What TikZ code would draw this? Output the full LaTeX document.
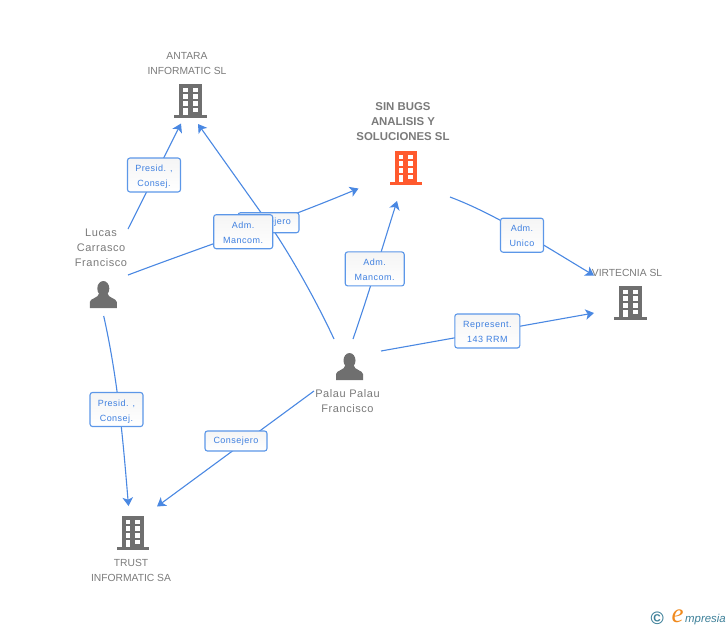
\documentclass[tikz,border=0pt]{standalone}
\usepackage{fontspec}
\setmainfont{Liberation Sans}
\newfontfamily\lblfont[LetterSpace=5.5]{Liberation Sans}
\newfontfamily\namefont[LetterSpace=5]{Liberation Sans}
\newfontfamily\logoserif{Liberation Serif}
\usetikzlibrary{arrows.meta,backgrounds,shadings}
\definecolor{edgeblue}{HTML}{4A88E2}
\definecolor{lbltext}{HTML}{3F80E0}
\definecolor{lblframe}{HTML}{5C97E8}
\definecolor{iconGrey}{HTML}{6F6F6F}
\definecolor{txtGrey}{HTML}{7A7A7A}
\definecolor{iconRed}{HTML}{FF5A2E}
\definecolor{logoTeal}{HTML}{3C7F98}
\definecolor{logoOrange}{HTML}{F08A1E}
\tikzset{
  x=1pt,y=-1pt,
  lbl/.style={draw=lblframe,line width=1.1pt,rounded corners=2.5pt,top color=black!4,bottom color=white,
    text=lbltext,align=center,inner sep=0pt,font=\fontsize{9}{15}\selectfont\lblfont},
  company/.style={text=txtGrey,align=center,inner sep=0pt,font=\fontsize{10.3}{15}\selectfont},
  focus/.style={text=txtGrey,align=center,inner sep=0pt,font=\fontsize{11.4}{15}\selectfont\bfseries},
  person/.style={text=txtGrey,align=center,inner sep=0pt,font=\fontsize{11}{15}\selectfont\namefont},
  link/.style={draw=edgeblue,line width=1.1pt},
  linkto/.style={link,-{Stealth[length=8.5pt,width=10.5pt,inset=2.2pt]}},
}
\newcommand{\twolines}[2]{\rule{0pt}{10.5pt}#1\\#2\rule[-2.5pt]{0pt}{0pt}}
\newcommand{\oneline}[1]{\rule[-2pt]{0pt}{8pt}#1}
\newcommand{\bldg}[3]{%
  \begin{scope}[shift={(#1,#2)}]
    \fill[#3] (0,0) rectangle (22.4,31);
    \fill[#3] (-5,31) rectangle (27.2,34);
    \foreach \yy in {3.7,10.3,17}{
      \fill[white] (3.7,\yy) rectangle +(4.7,4.7);
      \fill[white] (13.4,\yy) rectangle +(5,4.7);
    }
    \fill[white] (13.4,23.7) rectangle +(5,4.7);
    \fill[white] (3.7,23.7) rectangle (8.2,31);
  \end{scope}}
\newcommand{\persona}[2]{%
  \begin{scope}[shift={(#1,#2)}]
    \fill[iconGrey] (0,7.5) ellipse (6 and 7.5);
    \fill[iconGrey] (-13.5,27) -- (-13.5,21) .. controls (-13,17) and (-5,17.5) .. (-4,12) -- (4,12)
      .. controls (5,17.5) and (13,17) .. (13.5,21) -- (13.5,27) -- cycle;
  \end{scope}}
\begin{document}
\begin{tikzpicture}
\useasboundingbox (0,0) rectangle (728,630);

% icons
\bldg{179.3}{84}{iconGrey}
\bldg{395}{151}{iconRed}
\bldg{619.3}{286}{iconGrey}
\bldg{122}{516}{iconGrey}
\persona{103.3}{281}
\persona{349.5}{353}

% names
\node[company] (antara) at (187,63.5) {ANTARA\\INFORMATIC SL};
\node[focus] (sinbugs) at (403,122) {SIN BUGS\\ANALISIS Y\\SOLUCIONES SL};
\node[company] (virtecnia) at (627,272.5) {VIRTECNIA SL};
\node[company] (trust) at (131,570.5) {TRUST\\INFORMATIC SA};
\node[person] (lucas) at (101,247.7) {Lucas\\Carrasco\\Francisco};
\node[person] (palau) at (347.5,401.2) {Palau Palau\\Francisco};

% labels
\node[lbl,minimum width=53pt,minimum height=34pt] (l1) at (154,175) {\twolines{Presid. ,}{Consej.}};
\node[lbl,minimum width=61pt,minimum height=20pt] (l2) at (268.5,222.7) {\oneline{Consejero}};
\node[lbl,minimum width=59pt,minimum height=34pt] (l3) at (243.2,231.7) {\twolines{Adm.}{Mancom.}};
\node[lbl,minimum width=59pt,minimum height=34pt] (l4) at (374.7,268.9) {\twolines{Adm.}{Mancom.}};
\node[lbl,minimum width=43pt,minimum height=34pt] (l5) at (522,235.2) {\twolines{Adm.}{Unico}};
\node[lbl,minimum width=65pt,minimum height=34pt] (l6) at (487.3,331) {\twolines{Represent.}{143 RRM}};
\node[lbl,minimum width=53pt,minimum height=34pt] (l7) at (116.5,409.5) {\twolines{Presid. ,}{Consej.}};
\node[lbl,minimum width=62pt,minimum height=20pt] (l8) at (236,441) {\oneline{Consejero}};

% free ends
\coordinate (a1) at (128,229); \coordinate (t1) at (181,123.5);
\coordinate (a2) at (334,339); \coordinate (m2) at (262,214); \coordinate (t2) at (198,124);
\coordinate (a3) at (128,275); \coordinate (t3) at (358.5,188.5);
\coordinate (a4) at (353,339); \coordinate (t4) at (397,201);
\coordinate (a5) at (450,197); \coordinate (t5) at (594,275.5);
\coordinate (a6) at (381,351); \coordinate (t6) at (594,313);
\coordinate (a7) at (103.7,316); \coordinate (t7) at (128.5,506);
\coordinate (a8) at (314,391); \coordinate (t8) at (157,506.5);

\begin{scope}[on background layer]
  \draw[linkto] (a1) -- (t1);
  \draw[linkto] (a2) .. controls (315,298) and (285,245) .. (m2) -- (t2);
  \draw[linkto] (a3) .. controls (213,243) and (273,224) .. (t3);
  \draw[linkto] (a4) .. controls (368,296) and (380,255) .. (t4);
  \draw[linkto] (a5) .. controls (495,214) and (540,243) .. (t5);
  \draw[linkto] (a6) -- (t6);
  \draw[linkto] (a7) .. controls (118,380) and (123,440) .. (t7);
  \draw[linkto] (a8) -- (t8);
\end{scope}

% logo
\node[inner sep=0pt,text=logoTeal,font=\fontsize{18}{18}\selectfont\bfseries] (copy) at (657.3,618.5) {©};
\node[inner sep=0pt,text=logoOrange,font=\fontsize{27}{27}\selectfont\logoserif\itshape] (logoe) at (677.5,616) {e};
\node[inner sep=0pt,anchor=west,text=logoTeal,font=\fontsize{11.4}{12}\selectfont\itshape] (logot) at (685,619.5) {mpresia};
\end{tikzpicture}
\end{document}
